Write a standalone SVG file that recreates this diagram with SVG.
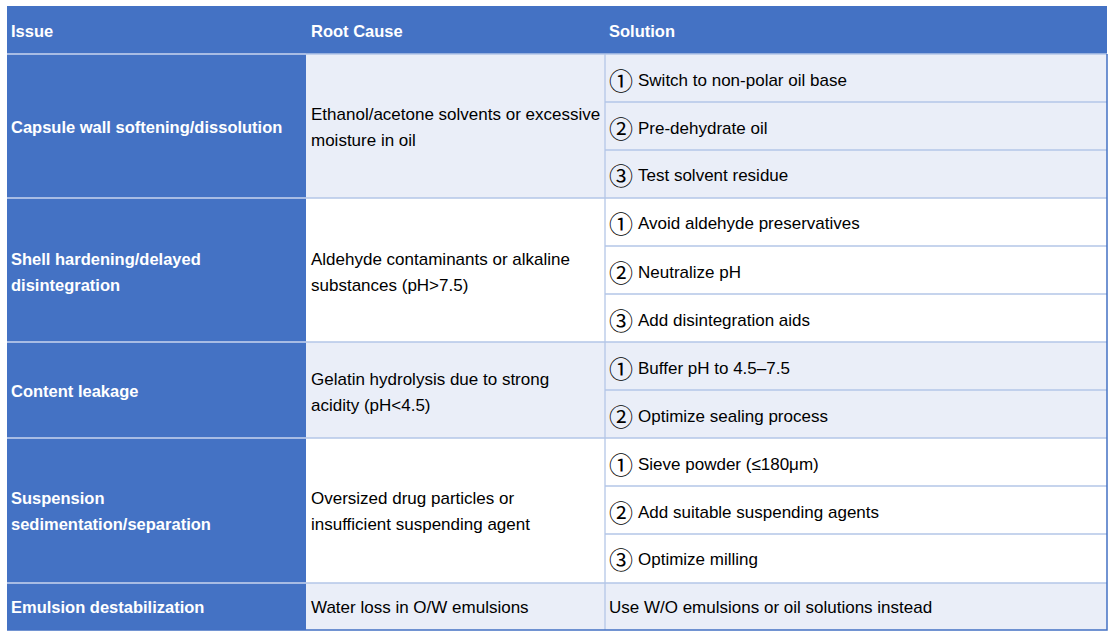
<svg xmlns="http://www.w3.org/2000/svg" width="1115" height="640" viewBox="0 0 1115 640">
<style>
text{font-family:"Liberation Sans",Arial,sans-serif;font-size:17px;fill:#000}
.h{fill:#fff;font-weight:bold;font-size:16.5px}
.i{fill:#fff;font-weight:bold;font-size:16.5px}
.n{font-family:"Noto Sans CJK SC","DejaVu Sans",sans-serif;font-size:24px}
.blue{fill:#4472C4}
.lt{fill:#EAEEF8}
.wh{fill:#fff}
.gl{stroke:#B4C6E7;stroke-width:1.3;fill:none}
.wl{stroke:#C9D5EE;stroke-width:1.3;fill:none}
.ob{stroke:#4472C4;stroke-width:1.5;fill:none}
</style>
<rect width="1115" height="640" fill="#fff"/>
<g id="backgrounds">
<rect class="blue" x="7" y="6" width="1100" height="48"/>
<rect class="blue" x="7" y="54" width="299" height="576"/>
<rect class="lt" x="306" y="54" width="801" height="144"/>
<rect class="wh" x="306" y="198" width="801" height="144"/>
<rect class="lt" x="306" y="342" width="801" height="96"/>
<rect class="wh" x="306" y="438" width="801" height="145"/>
<rect class="lt" x="306" y="583" width="801" height="47"/>
</g>
<g id="grid">
<path class="wl" d="M7 54H306M7 198H306M7 342H306M7 438H306M7 583H306"/>
<path class="gl" d="M306 54H1107M306 198H1107M306 342H1107M306 438H1107M306 583H1107"/>
<path class="gl" d="M605 102H1107M605 150H1107M605 246H1107M605 294H1107M605 390H1107M605 486H1107M605 534H1107"/>
<path class="gl" d="M605 54V630"/>
<path class="ob" d="M1107 54V630H7"/>
</g>
<g id="header">
<text class="h" x="11" y="37">Issue</text>
<text class="h" x="311" y="37">Root Cause</text>
<text class="h" x="609" y="37">Solution</text>
</g>
<g id="row1">
<text class="i" x="11" y="133">Capsule wall softening/dissolution</text>
<text x="311" y="120">Ethanol/acetone solvents or excessive</text>
<text x="311" y="146">moisture in oil</text>
<text x="609" y="86"><tspan class="n" dy="4">①</tspan><tspan x="638" dy="-4">Switch to non-polar oil base</tspan></text>
<text x="609" y="134"><tspan class="n" dy="4">②</tspan><tspan x="638" dy="-4">Pre-dehydrate oil</tspan></text>
<text x="609" y="181"><tspan class="n" dy="4">③</tspan><tspan x="638" dy="-4">Test solvent residue</tspan></text>
</g>
<g id="row2">
<text class="i" x="11" y="265">Shell hardening/delayed</text>
<text class="i" x="11" y="291">disintegration</text>
<text x="311" y="265">Aldehyde contaminants or alkaline</text>
<text x="311" y="291">substances (pH&gt;7.5)</text>
<text x="609" y="229"><tspan class="n" dy="4">①</tspan><tspan x="638" dy="-4">Avoid aldehyde preservatives</tspan></text>
<text x="609" y="278"><tspan class="n" dy="4">②</tspan><tspan x="638" dy="-4">Neutralize pH</tspan></text>
<text x="609" y="326"><tspan class="n" dy="4">③</tspan><tspan x="638" dy="-4">Add disintegration aids</tspan></text>
</g>
<g id="row3">
<text class="i" x="11" y="397">Content leakage</text>
<text x="311" y="385">Gelatin hydrolysis due to strong</text>
<text x="311" y="411">acidity (pH&lt;4.5)</text>
<text x="609" y="374"><tspan class="n" dy="4">①</tspan><tspan x="638" dy="-4">Buffer pH to 4.5–7.5</tspan></text>
<text x="609" y="422"><tspan class="n" dy="4">②</tspan><tspan x="638" dy="-4">Optimize sealing process</tspan></text>
</g>
<g id="row4">
<text class="i" x="11" y="504">Suspension</text>
<text class="i" x="11" y="530">sedimentation/separation</text>
<text x="311" y="504">Oversized drug particles or</text>
<text x="311" y="530">insufficient suspending agent</text>
<text x="609" y="470"><tspan class="n" dy="4">①</tspan><tspan x="638" dy="-4">Sieve powder (≤180μm)</tspan></text>
<text x="609" y="518"><tspan class="n" dy="4">②</tspan><tspan x="638" dy="-4">Add suitable suspending agents</tspan></text>
<text x="609" y="565"><tspan class="n" dy="4">③</tspan><tspan x="638" dy="-4">Optimize milling</tspan></text>
</g>
<g id="row5">
<text class="i" x="11" y="613">Emulsion destabilization</text>
<text x="311" y="613">Water loss in O/W emulsions</text>
<text x="609" y="613">Use W/O emulsions or oil solutions instead</text>
</g>
</svg>
